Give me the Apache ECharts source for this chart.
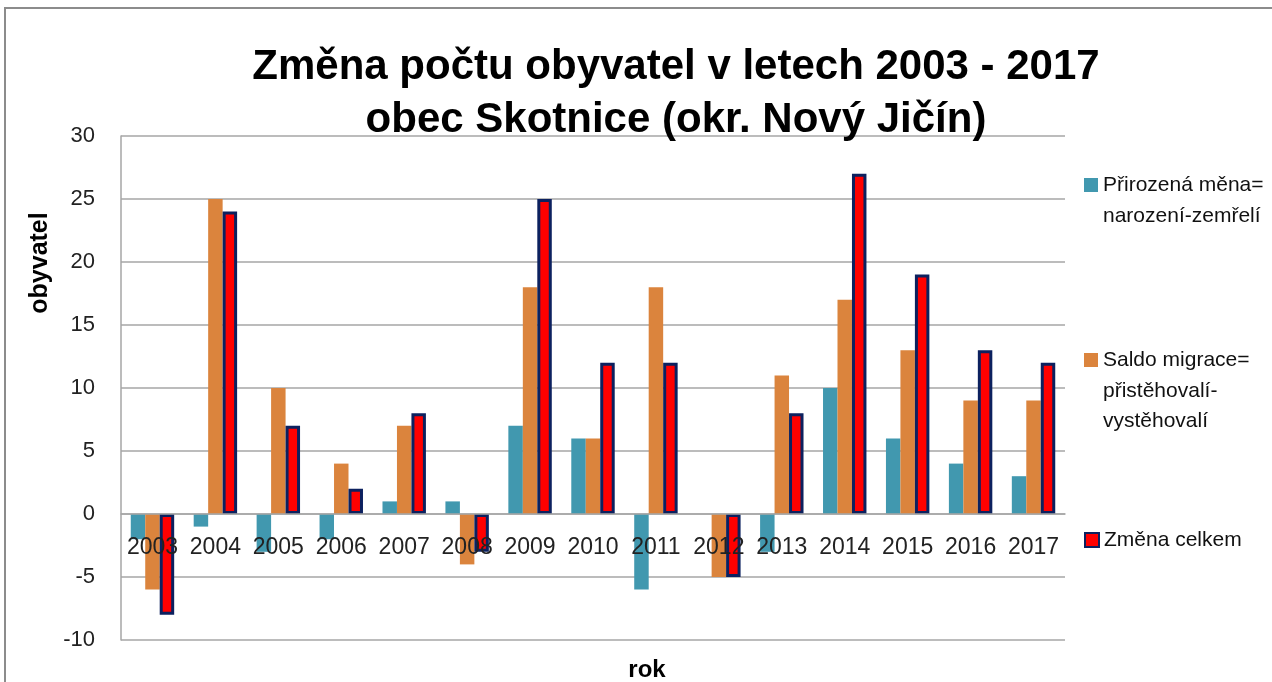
<!DOCTYPE html>
<html><head><meta charset="utf-8">
<script src="https://cdn.jsdelivr.net/npm/echarts@6/dist/echarts.min.js"></script>
<style>html,body{margin:0;padding:0;background:#fff}#c{width:1272px;height:682px}</style>
</head><body><div id="c"></div>
<script>
const years = ['2003','2004','2005','2006','2007','2008','2009','2010','2011','2012','2013','2014','2015','2016','2017'];
const prirozena = [-2,-1,-3,-2,1,1,7,6,-6,0,-3,10,6,4,3];
const saldo = [-6,25,10,4,7,-4,18,6,18,-5,11,17,13,9,9];
const celkem = [-8,24,7,2,8,-3,25,12,12,-5,8,27,19,13,12];
const seriesNames = ['Přirozená měna=\nnarození-zemřelí','Saldo migrace=\npřistěhovalí-\nvystěhovalí','Změna celkem'];
const titleText = 'Změna počtu obyvatel v letech 2003 - 2017\nobec Skotnice (okr. Nový Jičín)';
const yTitle = 'obyvatel';
const xTitle = 'rok';

const chart = echarts.init(document.getElementById('c'));
const F = '"Liberation Sans", Arial, sans-serif';
const grey = '#a6a6a6';
const lineH = 30;
const legendTops = [185, 360, 540];
const legendFont = 21;
function legendFor(i){
  return {
    data:[seriesNames[i]], left:1084, top:legendTops[i]-lineH/2, orient:'vertical',
    icon:'rect', itemWidth:14, itemHeight:14, itemGap:0, padding:0,
    formatter:function(n){return n.split('\n')[0];},
    textStyle:{fontFamily:F, fontSize:legendFont, color:'#111', lineHeight:lineH}
  };
}
const extraLines = [];
seriesNames.forEach(function(n,i){
  n.split('\n').slice(1).forEach(function(t,k){
    extraLines.push({type:'text', left:1103, top:legendTops[i]+(k+1)*lineH-lineH/2+6,
      style:{text:t, font:legendFont+'px "Liberation Sans", Arial, sans-serif', fill:'#111'}});
  });
});
chart.setOption({
  animation:false,
  backgroundColor:'#fff',
  title:{text:titleText, left:671, top:36, textAlign:'center',
    textStyle:{fontFamily:'"Liberation Sans Narrow", "Liberation Sans", sans-serif', fontWeight:'bold', fontSize:42, lineHeight:53, color:'#000'}},
  legend:[legendFor(0), legendFor(1), legendFor(2)],
  grid:{left:121, right:207, top:136, bottom:42},
  xAxis:{type:'category', data:years, offset:-126, z:10,
    axisLine:{show:true, onZero:false, lineStyle:{color:grey, width:1.5}},
    axisTick:{show:false},
    axisLabel:{interval:0, margin:22, fontFamily:F, fontSize:23, color:'#222'}},
  yAxis:{type:'value', min:-10, max:30, interval:5,
    axisLine:{show:true, lineStyle:{color:grey, width:1.5}},
    axisTick:{show:false},
    axisLabel:{margin:26, fontFamily:F, fontSize:22, color:'#222'},
    splitLine:{lineStyle:{color:grey, width:1.5}}},
  series:[
    {name:seriesNames[0], type:'bar', data:prirozena, barGap:'0%', barCategoryGap:'31%', itemStyle:{color:'#4198af'}},
    {name:seriesNames[1], type:'bar', data:saldo, itemStyle:{color:'#db843d'}},
    {name:seriesNames[2], type:'bar', data:celkem, z:3, itemStyle:{color:'#ff0000', borderColor:'#0c215f', borderWidth:3}}
  ],
  graphic:[
    {type:'rect', shape:{x:5, y:8, width:1300, height:700}, style:{fill:'none', stroke:'#8c8c8c', lineWidth:2}, silent:true, z:-1},
    {type:'text', x:40, y:263, rotation:Math.PI/2, style:{text:yTitle, font:'bold 25px "Liberation Sans", Arial, sans-serif', fill:'#000', textAlign:'center', textVerticalAlign:'middle'}},
    {type:'text', x:647, y:670, style:{text:xTitle, font:'bold 24px "Liberation Sans", Arial, sans-serif', fill:'#000', textAlign:'center', textVerticalAlign:'middle'}}
  ].concat(extraLines)
});
</script></body></html>
